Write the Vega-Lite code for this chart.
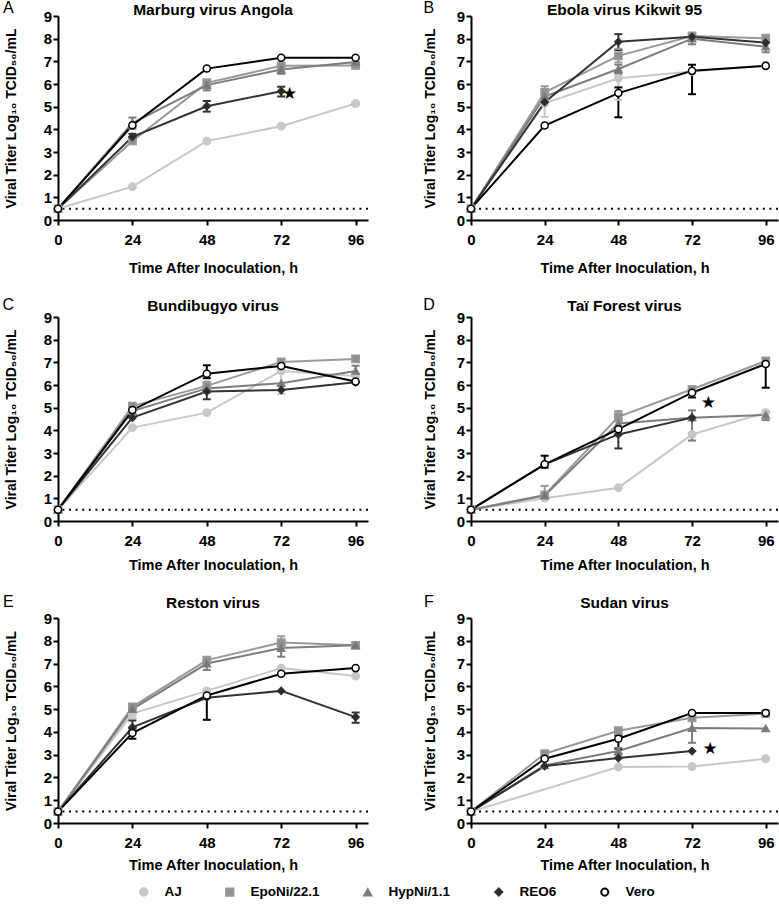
{
"$schema": "https://vega.github.io/schema/vega-lite/v6.json",
"padding": {"left": 2, "top": 0, "right": 2, "bottom": 0},
"background": "#ffffff",
"datasets": {
"d": [
{"panel":"A","series":"AJ","t":0,"v":0.5},{"panel":"A","series":"AJ","t":24,"v":1.47},{"panel":"A","series":"AJ","t":48,"v":3.48},{"panel":"A","series":"AJ","t":72,"v":4.14},{"panel":"A","series":"AJ","t":96,"v":5.14},
{"panel":"A","series":"EpoNi/22.1","t":0,"v":0.5},{"panel":"A","series":"EpoNi/22.1","t":24,"v":3.49},{"panel":"A","series":"EpoNi/22.1","t":48,"v":6.05},{"panel":"A","series":"EpoNi/22.1","t":72,"v":6.8},{"panel":"A","series":"EpoNi/22.1","t":96,"v":6.82},
{"panel":"A","series":"HypNi/1.1","t":0,"v":0.5},{"panel":"A","series":"HypNi/1.1","t":24,"v":4.28},{"panel":"A","series":"HypNi/1.1","t":48,"v":5.95},{"panel":"A","series":"HypNi/1.1","t":72,"v":6.64},{"panel":"A","series":"HypNi/1.1","t":96,"v":6.97},
{"panel":"A","series":"REO6","t":0,"v":0.5},{"panel":"A","series":"REO6","t":24,"v":3.67},{"panel":"A","series":"REO6","t":48,"v":5.02},{"panel":"A","series":"REO6","t":72,"v":5.68},
{"panel":"A","series":"Vero","t":0,"v":0.5},{"panel":"A","series":"Vero","t":24,"v":4.18},{"panel":"A","series":"Vero","t":48,"v":6.68},{"panel":"A","series":"Vero","t":72,"v":7.16},{"panel":"A","series":"Vero","t":96,"v":7.16},
{"panel":"B","series":"AJ","t":0,"v":0.5},{"panel":"B","series":"AJ","t":24,"v":5.15},{"panel":"B","series":"AJ","t":48,"v":6.25},{"panel":"B","series":"AJ","t":72,"v":6.55},{"panel":"B","series":"AJ","t":96,"v":6.82},
{"panel":"B","series":"EpoNi/22.1","t":0,"v":0.5},{"panel":"B","series":"EpoNi/22.1","t":24,"v":5.63},{"panel":"B","series":"EpoNi/22.1","t":48,"v":7.24},{"panel":"B","series":"EpoNi/22.1","t":72,"v":8.12},{"panel":"B","series":"EpoNi/22.1","t":96,"v":8.02},
{"panel":"B","series":"HypNi/1.1","t":0,"v":0.5},{"panel":"B","series":"HypNi/1.1","t":24,"v":5.45},{"panel":"B","series":"HypNi/1.1","t":48,"v":6.66},{"panel":"B","series":"HypNi/1.1","t":72,"v":8.0},{"panel":"B","series":"HypNi/1.1","t":96,"v":7.65},
{"panel":"B","series":"REO6","t":0,"v":0.5},{"panel":"B","series":"REO6","t":24,"v":5.2},{"panel":"B","series":"REO6","t":48,"v":7.86},{"panel":"B","series":"REO6","t":72,"v":8.08},{"panel":"B","series":"REO6","t":96,"v":7.82},
{"panel":"B","series":"Vero","t":0,"v":0.5},{"panel":"B","series":"Vero","t":24,"v":4.17},{"panel":"B","series":"Vero","t":48,"v":5.6},{"panel":"B","series":"Vero","t":72,"v":6.58},{"panel":"B","series":"Vero","t":96,"v":6.8},
{"panel":"C","series":"AJ","t":0,"v":0.5},{"panel":"C","series":"AJ","t":24,"v":4.12},{"panel":"C","series":"AJ","t":48,"v":4.78},{"panel":"C","series":"AJ","t":72,"v":6.62},{"panel":"C","series":"AJ","t":96,"v":6.4},
{"panel":"C","series":"EpoNi/22.1","t":0,"v":0.5},{"panel":"C","series":"EpoNi/22.1","t":24,"v":5.07},{"panel":"C","series":"EpoNi/22.1","t":48,"v":5.96},{"panel":"C","series":"EpoNi/22.1","t":72,"v":7.02},{"panel":"C","series":"EpoNi/22.1","t":96,"v":7.15},
{"panel":"C","series":"HypNi/1.1","t":0,"v":0.5},{"panel":"C","series":"HypNi/1.1","t":24,"v":4.85},{"panel":"C","series":"HypNi/1.1","t":48,"v":5.85},{"panel":"C","series":"HypNi/1.1","t":72,"v":6.08},{"panel":"C","series":"HypNi/1.1","t":96,"v":6.62},
{"panel":"C","series":"REO6","t":0,"v":0.5},{"panel":"C","series":"REO6","t":24,"v":4.56},{"panel":"C","series":"REO6","t":48,"v":5.71},{"panel":"C","series":"REO6","t":72,"v":5.78},{"panel":"C","series":"REO6","t":96,"v":6.12},
{"panel":"C","series":"Vero","t":0,"v":0.5},{"panel":"C","series":"Vero","t":24,"v":4.9},{"panel":"C","series":"Vero","t":48,"v":6.5},{"panel":"C","series":"Vero","t":72,"v":6.84},{"panel":"C","series":"Vero","t":96,"v":6.15},
{"panel":"D","series":"AJ","t":0,"v":0.5},{"panel":"D","series":"AJ","t":24,"v":1.0},{"panel":"D","series":"AJ","t":48,"v":1.47},{"panel":"D","series":"AJ","t":72,"v":3.82},{"panel":"D","series":"AJ","t":96,"v":4.78},
{"panel":"D","series":"EpoNi/22.1","t":0,"v":0.5},{"panel":"D","series":"EpoNi/22.1","t":24,"v":1.15},{"panel":"D","series":"EpoNi/22.1","t":48,"v":4.6},{"panel":"D","series":"EpoNi/22.1","t":72,"v":5.81},{"panel":"D","series":"EpoNi/22.1","t":96,"v":7.06},
{"panel":"D","series":"HypNi/1.1","t":0,"v":0.5},{"panel":"D","series":"HypNi/1.1","t":24,"v":1.12},{"panel":"D","series":"HypNi/1.1","t":48,"v":4.3},{"panel":"D","series":"HypNi/1.1","t":72,"v":4.56},{"panel":"D","series":"HypNi/1.1","t":96,"v":4.68},
{"panel":"D","series":"REO6","t":0,"v":0.5},{"panel":"D","series":"REO6","t":24,"v":2.5},{"panel":"D","series":"REO6","t":48,"v":3.82},{"panel":"D","series":"REO6","t":72,"v":4.56},
{"panel":"D","series":"Vero","t":0,"v":0.5},{"panel":"D","series":"Vero","t":24,"v":2.5},{"panel":"D","series":"Vero","t":48,"v":4.05},{"panel":"D","series":"Vero","t":72,"v":5.66},{"panel":"D","series":"Vero","t":96,"v":6.93},
{"panel":"E","series":"AJ","t":0,"v":0.5},{"panel":"E","series":"AJ","t":24,"v":4.8},{"panel":"E","series":"AJ","t":48,"v":5.8},{"panel":"E","series":"AJ","t":72,"v":6.8},{"panel":"E","series":"AJ","t":96,"v":6.45},
{"panel":"E","series":"EpoNi/22.1","t":0,"v":0.5},{"panel":"E","series":"EpoNi/22.1","t":24,"v":5.1},{"panel":"E","series":"EpoNi/22.1","t":48,"v":7.15},{"panel":"E","series":"EpoNi/22.1","t":72,"v":7.92},{"panel":"E","series":"EpoNi/22.1","t":96,"v":7.8},
{"panel":"E","series":"HypNi/1.1","t":0,"v":0.5},{"panel":"E","series":"HypNi/1.1","t":24,"v":5.0},{"panel":"E","series":"HypNi/1.1","t":48,"v":7.0},{"panel":"E","series":"HypNi/1.1","t":72,"v":7.68},{"panel":"E","series":"HypNi/1.1","t":96,"v":7.8},
{"panel":"E","series":"REO6","t":0,"v":0.5},{"panel":"E","series":"REO6","t":24,"v":4.2},{"panel":"E","series":"REO6","t":48,"v":5.5},{"panel":"E","series":"REO6","t":72,"v":5.8},{"panel":"E","series":"REO6","t":96,"v":4.65},
{"panel":"E","series":"Vero","t":0,"v":0.5},{"panel":"E","series":"Vero","t":24,"v":3.95},{"panel":"E","series":"Vero","t":48,"v":5.6},{"panel":"E","series":"Vero","t":72,"v":6.55},{"panel":"E","series":"Vero","t":96,"v":6.8},
{"panel":"F","series":"AJ","t":0,"v":0.5},{"panel":"F","series":"AJ","t":48,"v":2.46},{"panel":"F","series":"AJ","t":72,"v":2.48},{"panel":"F","series":"AJ","t":96,"v":2.82},
{"panel":"F","series":"EpoNi/22.1","t":0,"v":0.5},{"panel":"F","series":"EpoNi/22.1","t":24,"v":3.04},{"panel":"F","series":"EpoNi/22.1","t":48,"v":4.05},{"panel":"F","series":"EpoNi/22.1","t":72,"v":4.62},{"panel":"F","series":"EpoNi/22.1","t":96,"v":4.8},
{"panel":"F","series":"HypNi/1.1","t":0,"v":0.5},{"panel":"F","series":"HypNi/1.1","t":24,"v":2.53},{"panel":"F","series":"HypNi/1.1","t":48,"v":3.16},{"panel":"F","series":"HypNi/1.1","t":72,"v":4.17},{"panel":"F","series":"HypNi/1.1","t":96,"v":4.15},
{"panel":"F","series":"REO6","t":0,"v":0.5},{"panel":"F","series":"REO6","t":24,"v":2.5},{"panel":"F","series":"REO6","t":48,"v":2.85},{"panel":"F","series":"REO6","t":72,"v":3.16},
{"panel":"F","series":"Vero","t":0,"v":0.5},{"panel":"F","series":"Vero","t":24,"v":2.82},{"panel":"F","series":"Vero","t":48,"v":3.7},{"panel":"F","series":"Vero","t":72,"v":4.83},{"panel":"F","series":"Vero","t":96,"v":4.83}
],
"e": [
{"panel":"A","series":"HypNi/1.1","t":24,"lo":4.02,"hi":4.52},{"panel":"A","series":"HypNi/1.1","t":48,"lo":5.72,"hi":6.1},{"panel":"A","series":"HypNi/1.1","t":72,"lo":6.45,"hi":6.85},
{"panel":"A","series":"REO6","t":24,"lo":3.55,"hi":3.8},{"panel":"A","series":"REO6","t":48,"lo":4.78,"hi":5.25},{"panel":"A","series":"REO6","t":72,"lo":5.45,"hi":5.88},
{"panel":"A","series":"EpoNi/22.1","t":48,"lo":5.9,"hi":6.2},
{"panel":"B","series":"AJ","t":24,"lo":4.55,"hi":5.6},{"panel":"B","series":"AJ","t":48,"lo":5.3,"hi":6.3},
{"panel":"B","series":"EpoNi/22.1","t":24,"lo":5.4,"hi":5.9},{"panel":"B","series":"EpoNi/22.1","t":48,"lo":6.95,"hi":7.55},
{"panel":"B","series":"HypNi/1.1","t":48,"lo":6.45,"hi":6.85},{"panel":"B","series":"HypNi/1.1","t":72,"lo":7.75,"hi":8.15},{"panel":"B","series":"HypNi/1.1","t":96,"lo":7.4,"hi":7.85},
{"panel":"B","series":"REO6","t":48,"lo":7.5,"hi":8.2},
{"panel":"B","series":"Vero","t":48,"lo":4.53,"hi":5.85},{"panel":"B","series":"Vero","t":72,"lo":5.55,"hi":6.85},
{"panel":"C","series":"Vero","t":48,"lo":6.3,"hi":6.87},{"panel":"C","series":"EpoNi/22.1","t":48,"lo":5.65,"hi":6.15},{"panel":"C","series":"REO6","t":48,"lo":5.37,"hi":5.9},
{"panel":"C","series":"AJ","t":72,"lo":5.6,"hi":6.8},{"panel":"C","series":"HypNi/1.1","t":96,"lo":6.4,"hi":6.85},
{"panel":"D","series":"Vero","t":24,"lo":2.35,"hi":2.88},{"panel":"D","series":"EpoNi/22.1","t":24,"lo":1.0,"hi":1.55},{"panel":"D","series":"EpoNi/22.1","t":48,"lo":4.4,"hi":4.85},
{"panel":"D","series":"REO6","t":48,"lo":3.2,"hi":3.85},{"panel":"D","series":"HypNi/1.1","t":72,"lo":3.55,"hi":4.88},{"panel":"D","series":"Vero","t":72,"lo":5.45,"hi":5.85},
{"panel":"D","series":"Vero","t":96,"lo":5.88,"hi":7.0},{"panel":"D","series":"HypNi/1.1","t":96,"lo":4.45,"hi":4.85},
{"panel":"E","series":"EpoNi/22.1","t":72,"lo":7.7,"hi":8.2},{"panel":"E","series":"HypNi/1.1","t":48,"lo":6.72,"hi":7.1},{"panel":"E","series":"HypNi/1.1","t":72,"lo":7.3,"hi":7.9},
{"panel":"E","series":"Vero","t":24,"lo":3.7,"hi":4.15},{"panel":"E","series":"Vero","t":48,"lo":4.53,"hi":5.85},
{"panel":"E","series":"REO6","t":24,"lo":4.0,"hi":4.5},{"panel":"E","series":"REO6","t":96,"lo":4.4,"hi":4.85},{"panel":"E","series":"AJ","t":24,"lo":4.6,"hi":5.0},
{"panel":"F","series":"Vero","t":48,"lo":3.26,"hi":3.85},{"panel":"F","series":"HypNi/1.1","t":72,"lo":3.52,"hi":4.83},{"panel":"F","series":"HypNi/1.1","t":48,"lo":3.0,"hi":3.3}
],
"s": [
{"panel":"A","t":74.7,"v":5.56},{"panel":"D","t":77.3,"v":5.22},{"panel":"F","t":77.9,"v":3.26}
]
},
"vconcat": [
{"hconcat": [
{"width": 310, "height": 204, "title": {"text": "Marburg virus Angola", "offset": -18, "frame": "group"},
 "layer": [
  {"data": {"values": [{}]}, "mark": {"type": "rule", "strokeDash": [2, 4.6], "strokeWidth": 2, "color": "#000"}, "encoding": {"y": {"datum": 0.5, "type": "quantitative"}}},
  {"data": {"name": "d"}, "transform": [{"filter": "datum.panel === 'A'"}], "mark": {"type": "line", "strokeWidth": 2},
   "encoding": {"x": {"field": "t", "type": "quantitative", "scale": {"domain": [0, 100], "nice": false}, "axis": {"values": [0, 24, 48, 72, 96], "title": "Time After Inoculation, h", "titlePadding": 14.5, "labelPadding": 7}},
    "y": {"field": "v", "type": "quantitative", "scale": {"domain": [0, 9], "nice": false}, "axis": {"values": [0,1,2,3,4,5,6,7,8,9], "labelOverlap": false, "title": "Viral Titer Log₁₀ TCID₅₀/mL", "titlePadding": 25, "labelPadding": 1.5}},
    "stroke": {"field": "series", "type": "nominal", "scale": {"domain": ["AJ","EpoNi/22.1","HypNi/1.1","REO6","Vero"], "range": ["#c8c8c8","#999999","#7d7d7d","#333333","#000000"]}}}},
  {"data": {"name": "e"}, "transform": [{"filter": "datum.panel === 'A'"}], "mark": {"type": "rule", "strokeWidth": 2},
   "encoding": {"x": {"field": "t", "type": "quantitative"}, "y": {"field": "lo", "type": "quantitative"}, "y2": {"field": "hi"}, "stroke": {"field": "series", "type": "nominal"}}},
  {"data": {"name": "e"}, "transform": [{"filter": "datum.panel === 'A'"}], "mark": {"type": "point", "shape": "stroke", "size": 64, "strokeWidth": 2, "filled": false, "opacity": 1},
   "encoding": {"x": {"field": "t", "type": "quantitative"}, "y": {"field": "lo", "type": "quantitative"}, "stroke": {"field": "series", "type": "nominal"}}},
  {"data": {"name": "e"}, "transform": [{"filter": "datum.panel === 'A'"}], "mark": {"type": "point", "shape": "stroke", "size": 64, "strokeWidth": 2, "filled": false, "opacity": 1},
   "encoding": {"x": {"field": "t", "type": "quantitative"}, "y": {"field": "hi", "type": "quantitative"}, "stroke": {"field": "series", "type": "nominal"}}},
  {"data": {"name": "d"}, "transform": [{"filter": "datum.panel === 'A'"}], "mark": {"type": "point", "filled": true, "strokeWidth": 1.5, "opacity": 1},
   "encoding": {"x": {"field": "t", "type": "quantitative"}, "y": {"field": "v", "type": "quantitative"},
    "stroke": {"field": "series", "type": "nominal", "legend": {"title": null, "orient": "none", "direction": "horizontal", "legendX": 79, "legendY": 869, "labelFont": "Liberation Sans", "labelFontSize": 13.5, "labelFontWeight": "bold", "labelColor": "#000", "symbolSize": 100, "symbolStrokeWidth": 2, "labelOffset": 14, "columnPadding": 40,
      "labelExpr": "datum.label === 'REO6' ? 'REO6          ' : datum.label === 'HypNi/1.1' ? 'HypNi/1.1 ' : datum.label",
      "encode": {"symbols": {
        "shape": {"value": {"expr": "datum.value === 'EpoNi/22.1' ? 'M-1.8,0H1.8M-0.4,-0.4H0.4V0.4H-0.4Z' : datum.value === 'HypNi/1.1' ? 'M-1.8,0H1.8M0,-0.45L0.45,0.35H-0.45Z' : datum.value === 'REO6' ? 'M-1.8,0H1.8M0,-0.4L0.35,0L0,0.4L-0.35,0Z' : 'M-1.8,0H1.8M0.4,0A0.4,0.4,0,1,1,-0.4,0A0.4,0.4,0,1,1,0.4,0Z'"}},
        "fill": {"value": {"expr": "datum.value === 'Vero' ? '#ffffff' : datum.value === 'AJ' ? '#c8c8c8' : datum.value === 'EpoNi/22.1' ? '#909090' : datum.value === 'HypNi/1.1' ? '#777777' : '#2b2b2b'"}},
        "stroke": {"value": {"expr": "datum.value === 'Vero' ? '#000000' : datum.value === 'AJ' ? '#c8c8c8' : datum.value === 'EpoNi/22.1' ? '#999999' : datum.value === 'HypNi/1.1' ? '#7d7d7d' : '#333333'"}},
        "opacity": {"value": 1}, "strokeWidth": {"value": 2}}}}},
    "fill": {"field": "series", "type": "nominal", "scale": {"domain": ["AJ","EpoNi/22.1","HypNi/1.1","REO6","Vero"], "range": ["#c8c8c8","#909090","#777777","#2b2b2b","#ffffff"]}, "legend": null},
    "shape": {"field": "series", "type": "nominal", "scale": {"domain": ["AJ","EpoNi/22.1","HypNi/1.1","REO6","Vero"], "range": ["circle","square","triangle-up","diamond","circle"]}, "legend": null},
    "size": {"field": "series", "type": "nominal", "scale": {"domain": ["AJ","EpoNi/22.1","HypNi/1.1","REO6","Vero"], "range": [55,50,55,35,60]}, "legend": null}}},
  {"data": {"name": "s"}, "transform": [{"filter": "datum.panel === 'A'"}], "mark": {"type": "text", "text": "★", "fontSize": 17, "font": "DejaVu Sans", "color": "#000", "baseline": "middle", "align": "center"},
   "encoding": {"x": {"field": "t", "type": "quantitative"}, "y": {"field": "v", "type": "quantitative"}}},
  {"data": {"values": [{}]}, "mark": {"type": "text", "text": "A", "fontSize": 16, "font": "Liberation Sans", "color": "#000", "baseline": "middle", "align": "center"},
   "encoding": {"x": {"datum": -16, "type": "quantitative"}, "y": {"datum": 9.35, "type": "quantitative"}}}
 ]},
{"width": 307, "height": 204, "title": {"text": "Ebola virus Kikwit 95", "offset": -18, "frame": "group"},
 "layer": [
  {"data": {"values": [{}]}, "mark": {"type": "rule", "strokeDash": [2, 4.6], "strokeWidth": 2, "color": "#000"}, "encoding": {"y": {"datum": 0.5, "type": "quantitative"}}},
  {"data": {"name": "d"}, "transform": [{"filter": "datum.panel === 'B'"}], "mark": {"type": "line", "strokeWidth": 2},
   "encoding": {"x": {"field": "t", "type": "quantitative", "scale": {"domain": [0, 100], "nice": false}, "axis": {"values": [0, 24, 48, 72, 96], "title": "Time After Inoculation, h", "titlePadding": 14.5, "labelPadding": 7}},
    "y": {"field": "v", "type": "quantitative", "scale": {"domain": [0, 9], "nice": false}, "axis": {"values": [0,1,2,3,4,5,6,7,8,9], "labelOverlap": false, "title": "Viral Titer Log₁₀ TCID₅₀/mL", "titlePadding": 19, "labelPadding": 1.5}},
    "stroke": {"field": "series", "type": "nominal"}}},
  {"data": {"name": "e"}, "transform": [{"filter": "datum.panel === 'B'"}], "mark": {"type": "rule", "strokeWidth": 2},
   "encoding": {"x": {"field": "t", "type": "quantitative"}, "y": {"field": "lo", "type": "quantitative"}, "y2": {"field": "hi"}, "stroke": {"field": "series", "type": "nominal"}}},
  {"data": {"name": "e"}, "transform": [{"filter": "datum.panel === 'B'"}], "mark": {"type": "point", "shape": "stroke", "size": 64, "strokeWidth": 2, "filled": false, "opacity": 1},
   "encoding": {"x": {"field": "t", "type": "quantitative"}, "y": {"field": "lo", "type": "quantitative"}, "stroke": {"field": "series", "type": "nominal"}}},
  {"data": {"name": "e"}, "transform": [{"filter": "datum.panel === 'B'"}], "mark": {"type": "point", "shape": "stroke", "size": 64, "strokeWidth": 2, "filled": false, "opacity": 1},
   "encoding": {"x": {"field": "t", "type": "quantitative"}, "y": {"field": "hi", "type": "quantitative"}, "stroke": {"field": "series", "type": "nominal"}}},
  {"data": {"name": "d"}, "transform": [{"filter": "datum.panel === 'B'"}], "mark": {"type": "point", "filled": true, "strokeWidth": 1.5, "opacity": 1},
   "encoding": {"x": {"field": "t", "type": "quantitative"}, "y": {"field": "v", "type": "quantitative"}, "stroke": {"field": "series", "type": "nominal"},
    "fill": {"field": "series", "type": "nominal", "legend": null}, "shape": {"field": "series", "type": "nominal", "legend": null}, "size": {"field": "series", "type": "nominal", "legend": null}}},
  {"data": {"values": [{}]}, "mark": {"type": "text", "text": "B", "fontSize": 16, "font": "Liberation Sans", "color": "#000", "baseline": "middle", "align": "center"},
   "encoding": {"x": {"datum": -13.7, "type": "quantitative"}, "y": {"datum": 9.35, "type": "quantitative"}}}
 ]}
]},
{"hconcat": [
{"width": 310, "height": 204, "title": {"text": "Bundibugyo virus", "offset": -18, "frame": "group"},
 "layer": [
  {"data": {"values": [{}]}, "mark": {"type": "rule", "strokeDash": [2, 4.6], "strokeWidth": 2, "color": "#000"}, "encoding": {"y": {"datum": 0.5, "type": "quantitative"}}},
  {"data": {"name": "d"}, "transform": [{"filter": "datum.panel === 'C'"}], "mark": {"type": "line", "strokeWidth": 2},
   "encoding": {"x": {"field": "t", "type": "quantitative", "scale": {"domain": [0, 100], "nice": false}, "axis": {"values": [0, 24, 48, 72, 96], "title": "Time After Inoculation, h", "titlePadding": 10, "labelPadding": 7}},
    "y": {"field": "v", "type": "quantitative", "scale": {"domain": [0, 9], "nice": false}, "axis": {"values": [0,1,2,3,4,5,6,7,8,9], "labelOverlap": false, "title": "Viral Titer Log₁₀ TCID₅₀/mL", "titlePadding": 25, "labelPadding": 1.5}},
    "stroke": {"field": "series", "type": "nominal"}}},
  {"data": {"name": "e"}, "transform": [{"filter": "datum.panel === 'C'"}], "mark": {"type": "rule", "strokeWidth": 2},
   "encoding": {"x": {"field": "t", "type": "quantitative"}, "y": {"field": "lo", "type": "quantitative"}, "y2": {"field": "hi"}, "stroke": {"field": "series", "type": "nominal"}}},
  {"data": {"name": "e"}, "transform": [{"filter": "datum.panel === 'C'"}], "mark": {"type": "point", "shape": "stroke", "size": 64, "strokeWidth": 2, "filled": false, "opacity": 1},
   "encoding": {"x": {"field": "t", "type": "quantitative"}, "y": {"field": "lo", "type": "quantitative"}, "stroke": {"field": "series", "type": "nominal"}}},
  {"data": {"name": "e"}, "transform": [{"filter": "datum.panel === 'C'"}], "mark": {"type": "point", "shape": "stroke", "size": 64, "strokeWidth": 2, "filled": false, "opacity": 1},
   "encoding": {"x": {"field": "t", "type": "quantitative"}, "y": {"field": "hi", "type": "quantitative"}, "stroke": {"field": "series", "type": "nominal"}}},
  {"data": {"name": "d"}, "transform": [{"filter": "datum.panel === 'C'"}], "mark": {"type": "point", "filled": true, "strokeWidth": 1.5, "opacity": 1},
   "encoding": {"x": {"field": "t", "type": "quantitative"}, "y": {"field": "v", "type": "quantitative"}, "stroke": {"field": "series", "type": "nominal"},
    "fill": {"field": "series", "type": "nominal", "legend": null}, "shape": {"field": "series", "type": "nominal", "legend": null}, "size": {"field": "series", "type": "nominal", "legend": null}}},
  {"data": {"values": [{}]}, "mark": {"type": "text", "text": "C", "fontSize": 16, "font": "Liberation Sans", "color": "#000", "baseline": "middle", "align": "center"},
   "encoding": {"x": {"datum": -16, "type": "quantitative"}, "y": {"datum": 9.55, "type": "quantitative"}}}
 ]},
{"width": 307, "height": 204, "title": {"text": "Taï Forest virus", "offset": -18, "frame": "group"},
 "layer": [
  {"data": {"values": [{}]}, "mark": {"type": "rule", "strokeDash": [2, 4.6], "strokeWidth": 2, "color": "#000"}, "encoding": {"y": {"datum": 0.5, "type": "quantitative"}}},
  {"data": {"name": "d"}, "transform": [{"filter": "datum.panel === 'D'"}], "mark": {"type": "line", "strokeWidth": 2},
   "encoding": {"x": {"field": "t", "type": "quantitative", "scale": {"domain": [0, 100], "nice": false}, "axis": {"values": [0, 24, 48, 72, 96], "title": "Time After Inoculation, h", "titlePadding": 10, "labelPadding": 7}},
    "y": {"field": "v", "type": "quantitative", "scale": {"domain": [0, 9], "nice": false}, "axis": {"values": [0,1,2,3,4,5,6,7,8,9], "labelOverlap": false, "title": "Viral Titer Log₁₀ TCID₅₀/mL", "titlePadding": 19, "labelPadding": 1.5}},
    "stroke": {"field": "series", "type": "nominal"}}},
  {"data": {"name": "e"}, "transform": [{"filter": "datum.panel === 'D'"}], "mark": {"type": "rule", "strokeWidth": 2},
   "encoding": {"x": {"field": "t", "type": "quantitative"}, "y": {"field": "lo", "type": "quantitative"}, "y2": {"field": "hi"}, "stroke": {"field": "series", "type": "nominal"}}},
  {"data": {"name": "e"}, "transform": [{"filter": "datum.panel === 'D'"}], "mark": {"type": "point", "shape": "stroke", "size": 64, "strokeWidth": 2, "filled": false, "opacity": 1},
   "encoding": {"x": {"field": "t", "type": "quantitative"}, "y": {"field": "lo", "type": "quantitative"}, "stroke": {"field": "series", "type": "nominal"}}},
  {"data": {"name": "e"}, "transform": [{"filter": "datum.panel === 'D'"}], "mark": {"type": "point", "shape": "stroke", "size": 64, "strokeWidth": 2, "filled": false, "opacity": 1},
   "encoding": {"x": {"field": "t", "type": "quantitative"}, "y": {"field": "hi", "type": "quantitative"}, "stroke": {"field": "series", "type": "nominal"}}},
  {"data": {"name": "d"}, "transform": [{"filter": "datum.panel === 'D'"}], "mark": {"type": "point", "filled": true, "strokeWidth": 1.5, "opacity": 1},
   "encoding": {"x": {"field": "t", "type": "quantitative"}, "y": {"field": "v", "type": "quantitative"}, "stroke": {"field": "series", "type": "nominal"},
    "fill": {"field": "series", "type": "nominal", "legend": null}, "shape": {"field": "series", "type": "nominal", "legend": null}, "size": {"field": "series", "type": "nominal", "legend": null}}},
  {"data": {"name": "s"}, "transform": [{"filter": "datum.panel === 'D'"}], "mark": {"type": "text", "text": "★", "fontSize": 17, "font": "DejaVu Sans", "color": "#000", "baseline": "middle", "align": "center"},
   "encoding": {"x": {"field": "t", "type": "quantitative"}, "y": {"field": "v", "type": "quantitative"}}},
  {"data": {"values": [{}]}, "mark": {"type": "text", "text": "D", "fontSize": 16, "font": "Liberation Sans", "color": "#000", "baseline": "middle", "align": "center"},
   "encoding": {"x": {"datum": -13.7, "type": "quantitative"}, "y": {"datum": 9.55, "type": "quantitative"}}}
 ]}
]},
{"hconcat": [
{"width": 310, "height": 205, "title": {"text": "Reston virus", "offset": -18, "frame": "group"},
 "layer": [
  {"data": {"values": [{}]}, "mark": {"type": "rule", "strokeDash": [2, 4.6], "strokeWidth": 2, "color": "#000"}, "encoding": {"y": {"datum": 0.5, "type": "quantitative"}}},
  {"data": {"name": "d"}, "transform": [{"filter": "datum.panel === 'E'"}], "mark": {"type": "line", "strokeWidth": 2},
   "encoding": {"x": {"field": "t", "type": "quantitative", "scale": {"domain": [0, 100], "nice": false}, "axis": {"values": [0, 24, 48, 72, 96], "title": "Time After Inoculation, h", "titlePadding": 8, "labelPadding": 7}},
    "y": {"field": "v", "type": "quantitative", "scale": {"domain": [0, 9], "nice": false}, "axis": {"values": [0,1,2,3,4,5,6,7,8,9], "labelOverlap": false, "title": "Viral Titer Log₁₀ TCID₅₀/mL", "titlePadding": 25, "labelPadding": 1.5}},
    "stroke": {"field": "series", "type": "nominal"}}},
  {"data": {"name": "e"}, "transform": [{"filter": "datum.panel === 'E'"}], "mark": {"type": "rule", "strokeWidth": 2},
   "encoding": {"x": {"field": "t", "type": "quantitative"}, "y": {"field": "lo", "type": "quantitative"}, "y2": {"field": "hi"}, "stroke": {"field": "series", "type": "nominal"}}},
  {"data": {"name": "e"}, "transform": [{"filter": "datum.panel === 'E'"}], "mark": {"type": "point", "shape": "stroke", "size": 64, "strokeWidth": 2, "filled": false, "opacity": 1},
   "encoding": {"x": {"field": "t", "type": "quantitative"}, "y": {"field": "lo", "type": "quantitative"}, "stroke": {"field": "series", "type": "nominal"}}},
  {"data": {"name": "e"}, "transform": [{"filter": "datum.panel === 'E'"}], "mark": {"type": "point", "shape": "stroke", "size": 64, "strokeWidth": 2, "filled": false, "opacity": 1},
   "encoding": {"x": {"field": "t", "type": "quantitative"}, "y": {"field": "hi", "type": "quantitative"}, "stroke": {"field": "series", "type": "nominal"}}},
  {"data": {"name": "d"}, "transform": [{"filter": "datum.panel === 'E'"}], "mark": {"type": "point", "filled": true, "strokeWidth": 1.5, "opacity": 1},
   "encoding": {"x": {"field": "t", "type": "quantitative"}, "y": {"field": "v", "type": "quantitative"}, "stroke": {"field": "series", "type": "nominal"},
    "fill": {"field": "series", "type": "nominal", "legend": null}, "shape": {"field": "series", "type": "nominal", "legend": null}, "size": {"field": "series", "type": "nominal", "legend": null}}},
  {"data": {"values": [{}]}, "mark": {"type": "text", "text": "E", "fontSize": 16, "font": "Liberation Sans", "color": "#000", "baseline": "middle", "align": "center"},
   "encoding": {"x": {"datum": -16, "type": "quantitative"}, "y": {"datum": 9.72, "type": "quantitative"}}}
 ]},
{"width": 307, "height": 205, "title": {"text": "Sudan virus", "offset": -18, "frame": "group"},
 "layer": [
  {"data": {"values": [{}]}, "mark": {"type": "rule", "strokeDash": [2, 4.6], "strokeWidth": 2, "color": "#000"}, "encoding": {"y": {"datum": 0.5, "type": "quantitative"}}},
  {"data": {"name": "d"}, "transform": [{"filter": "datum.panel === 'F'"}], "mark": {"type": "line", "strokeWidth": 2},
   "encoding": {"x": {"field": "t", "type": "quantitative", "scale": {"domain": [0, 100], "nice": false}, "axis": {"values": [0, 24, 48, 72, 96], "title": "Time After Inoculation, h", "titlePadding": 8, "labelPadding": 7}},
    "y": {"field": "v", "type": "quantitative", "scale": {"domain": [0, 9], "nice": false}, "axis": {"values": [0,1,2,3,4,5,6,7,8,9], "labelOverlap": false, "title": "Viral Titer Log₁₀ TCID₅₀/mL", "titlePadding": 19, "labelPadding": 1.5}},
    "stroke": {"field": "series", "type": "nominal"}}},
  {"data": {"name": "e"}, "transform": [{"filter": "datum.panel === 'F'"}], "mark": {"type": "rule", "strokeWidth": 2},
   "encoding": {"x": {"field": "t", "type": "quantitative"}, "y": {"field": "lo", "type": "quantitative"}, "y2": {"field": "hi"}, "stroke": {"field": "series", "type": "nominal"}}},
  {"data": {"name": "e"}, "transform": [{"filter": "datum.panel === 'F'"}], "mark": {"type": "point", "shape": "stroke", "size": 64, "strokeWidth": 2, "filled": false, "opacity": 1},
   "encoding": {"x": {"field": "t", "type": "quantitative"}, "y": {"field": "lo", "type": "quantitative"}, "stroke": {"field": "series", "type": "nominal"}}},
  {"data": {"name": "e"}, "transform": [{"filter": "datum.panel === 'F'"}], "mark": {"type": "point", "shape": "stroke", "size": 64, "strokeWidth": 2, "filled": false, "opacity": 1},
   "encoding": {"x": {"field": "t", "type": "quantitative"}, "y": {"field": "hi", "type": "quantitative"}, "stroke": {"field": "series", "type": "nominal"}}},
  {"data": {"name": "d"}, "transform": [{"filter": "datum.panel === 'F'"}], "mark": {"type": "point", "filled": true, "strokeWidth": 1.5, "opacity": 1},
   "encoding": {"x": {"field": "t", "type": "quantitative"}, "y": {"field": "v", "type": "quantitative"}, "stroke": {"field": "series", "type": "nominal"},
    "fill": {"field": "series", "type": "nominal", "legend": null}, "shape": {"field": "series", "type": "nominal", "legend": null}, "size": {"field": "series", "type": "nominal", "legend": null}}},
  {"data": {"name": "s"}, "transform": [{"filter": "datum.panel === 'F'"}], "mark": {"type": "text", "text": "★", "fontSize": 17, "font": "DejaVu Sans", "color": "#000", "baseline": "middle", "align": "center"},
   "encoding": {"x": {"field": "t", "type": "quantitative"}, "y": {"field": "v", "type": "quantitative"}}},
  {"data": {"values": [{}]}, "mark": {"type": "text", "text": "F", "fontSize": 16, "font": "Liberation Sans", "color": "#000", "baseline": "middle", "align": "center"},
   "encoding": {"x": {"datum": -13.7, "type": "quantitative"}, "y": {"datum": 9.72, "type": "quantitative"}}}
 ]}
]}
],
"spacing": 21,
"config": {
 "view": {"stroke": null},
 "concat": {"spacing": 54},
 "axis": {"grid": false, "domainColor": "#000", "domainWidth": 2, "tickColor": "#000", "tickWidth": 2, "tickSize": 5, "labelOverlap": false, "labelFlush": false,
  "labelFont": "Liberation Sans", "labelFontWeight": "bold", "labelFontSize": 15, "labelColor": "#000",
  "titleFont": "Liberation Sans", "titleFontWeight": "bold", "titleFontSize": 14.5, "titleColor": "#000"},
 "axisY": {"titleFontSize": 14, "tickCount": 10},
 "title": {"font": "Liberation Sans", "fontSize": 15.5, "fontWeight": "bold", "color": "#000"}
}
}
